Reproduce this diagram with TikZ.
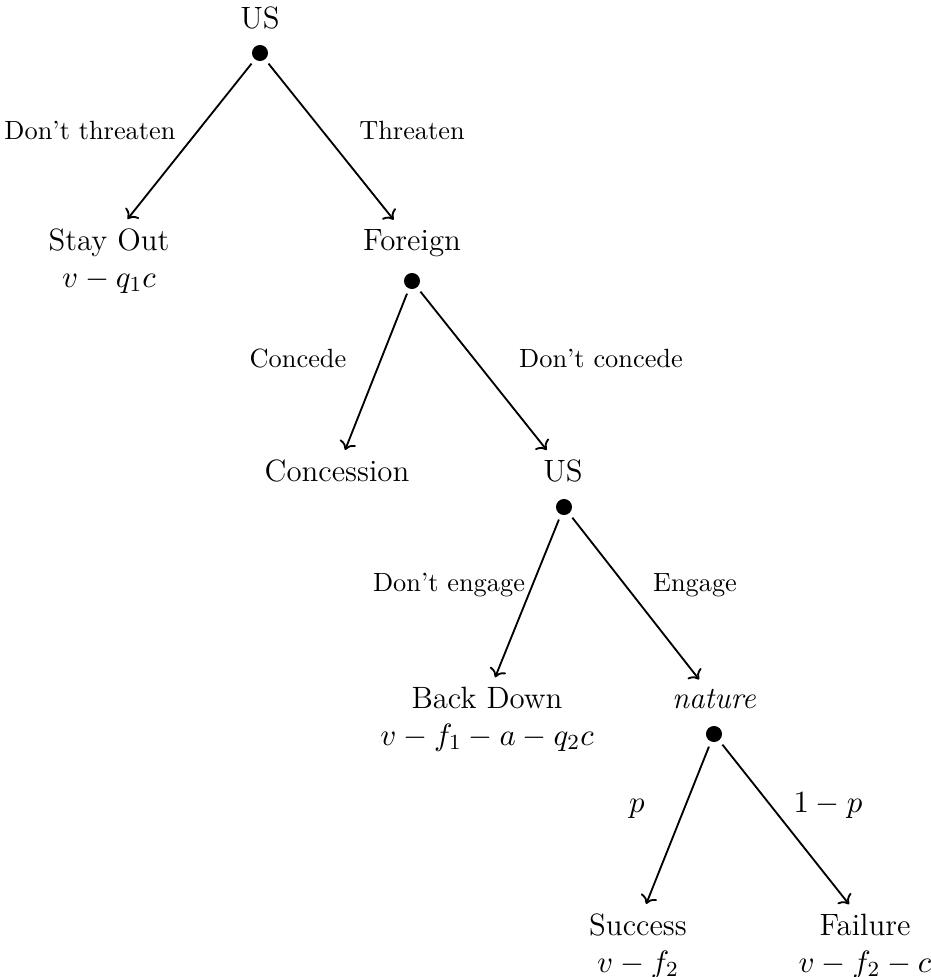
\RequirePackage{fix-cm}
\documentclass[tikz,border=0pt]{standalone}
\usepackage{amsmath}
\usetikzlibrary{arrows.meta, positioning}

\begin{document}
\begin{tikzpicture}[
    x=0.01334cm, y=-0.01334cm,
    state/.style={font=\fontsize{11.7}{14}\selectfont, anchor=base, inner sep=0.3333em},
    payoff/.style={font=\fontsize{11.7}{14}\selectfont, anchor=base},
    move/.style={font=\fontsize{10}{12}\selectfont, anchor=base},
    dot/.style={circle, fill=black, inner sep=0pt, minimum size=6.1pt, outer sep=2.1pt},
    branch/.style={->, line width=0.7pt}
  ]
    \useasboundingbox (0,0) rectangle (931,977);

    % decision nodes
    \node[state] (us1) at (260,28) {US};
    \node[dot] (d1) at (260,53) {};
    \node[state] (foreign) at (412,250) {Foreign};
    \node[dot] (d2) at (412,281) {};
    \node[state] (us2) at (563,481) {US};
    \node[dot] (d3) at (564,507) {};
    \node[state] (nature) at (714,708) {\textit{nature}};
    \node[dot] (d4) at (714,734) {};

    % outcomes
    \node[state] (stay) at (109,250) {Stay Out};
    \node[payoff] (stayp) at (109,287) {$v-q_1c$};
    \node[state] (concession) at (337,481) {Concession};
    \node[state] (back) at (487,708) {Back Down};
    \node[payoff] (backp) at (487,745) {$v-f_1-a-q_2c$};
    \node[state] (success) at (638,935) {Success};
    \node[payoff] (successp) at (638,972) {$v-f_2$};
    \node[state] (failure) at (865,935) {Failure};
    \node[payoff] (failurep) at (865,972) {$v-f_2-c$};

    % moves
    \node[move] (m1) at (90,139) {Don't threaten};
    \node[move] (m2) at (412,139) {Threaten};
    \node[move] (m3) at (298,367) {Concede};
    \node[move] (m4) at (601,367) {Don't concede};
    \node[move] (m5) at (449,591) {Don't engage};
    \node[move] (m6) at (695,591) {Engage};
    \node[payoff] (m7) at (637,812) {$p$};
    \node[payoff] (m8) at (828,812) {$1-p$};

    \draw[branch] (d1) -- (stay);
    \draw[branch] (d1) -- (foreign);
    \draw[branch] (d2) -- (concession);
    \draw[branch] (d2) -- (us2);
    \draw[branch] (d3) -- (back);
    \draw[branch] (d3) -- (nature);
    \draw[branch] (d4) -- (success);
    \draw[branch] (d4) -- (failure);
\end{tikzpicture}
\end{document}
